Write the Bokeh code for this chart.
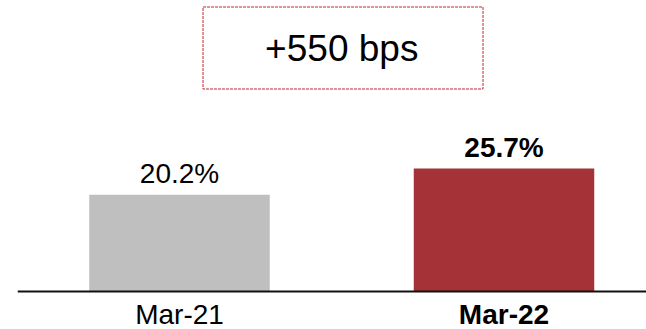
from bokeh.plotting import figure
from bokeh.models import Range1d, Span, BoxAnnotation, Label, ColumnDataSource
from bokeh.embed import file_html
from bokeh.resources import INLINE
from bokeh.core.properties import value

# ---- data ----
categories = ["Mar-21", "Mar-22"]
values = [20.2, 25.7]
bar_colors = ["#BFBFBF", "#A43237"]
label_weights = ["normal", "bold"]
value_labels = [f"{v:.1f}%" for v in values]
change_bps = round((values[1] - values[0]) * 100)
change_label = f"+{change_bps} bps"

# ---- layout (picture pixels -> data units) ----
W, H = 646, 329
FRAME_LEFT = 17          # x where the frame (and baseline) starts
ZERO_Y = 291             # y of the zero line
PX_PER_Y = 4.79          # pixels per percentage point
CENTER0, CENTER1 = 179.0, 503.5
PX_PER_X = CENTER1 - CENTER0


def dx(px):
    return (px - CENTER0) / PX_PER_X


def dy(py):
    return (ZERO_Y - py) / PX_PER_Y


p = figure(width=W, height=H, output_backend="svg", toolbar_location=None,
           x_axis_location=None, y_axis_location=None,
           x_range=Range1d(dx(FRAME_LEFT), dx(W)),
           y_range=Range1d(dy(H), dy(0)),
           min_border_left=FRAME_LEFT, min_border_right=0,
           min_border_top=0, min_border_bottom=0)
p.outline_line_color = None
p.xgrid.visible = False
p.ygrid.visible = False
p.background_fill_color = None
p.border_fill_color = None

xs = list(range(len(categories)))
src = ColumnDataSource(dict(x=xs, top=values, color=bar_colors,
                            cat=categories, lab=value_labels,
                            weight=label_weights))

bar_w = 180.5 / PX_PER_X
p.vbar(x="x", top="top", bottom=0, width=bar_w, fill_color="color",
       line_color=None, source=src)

# value labels above bars
p.text(x="x", y="top", text="lab", source=src,
       text_font=value("Liberation Sans"), text_font_size=value("28px"),
       text_font_style="weight", text_color="#000000",
       text_align="center", text_baseline="middle", y_offset=-21)

# category labels under the baseline
p.text(x="x", y=0, text="cat", source=src,
       text_font=value("Liberation Sans"), text_font_size=value("28px"),
       text_font_style="weight", text_color="#000000",
       text_align="center", text_baseline="middle", y_offset=23)

# baseline
p.add_layout(Span(location=0, dimension="width", line_color="#111111",
                  line_width=2))

# dashed box with the change label
mid = sum(xs) / len(xs)
box = BoxAnnotation(left=dx(202.5), right=dx(482.5),
                    top=dy(6.5), bottom=dy(88.5),
                    fill_alpha=0, fill_color=None,
                    line_color="#C0262D", line_alpha=1.0,
                    line_dash="3 1", line_width=1)
p.add_layout(box)
p.add_layout(Label(x=mid, y=dy(48), text=change_label,
                   text_font="Liberation Sans", text_font_size="37px",
                   text_color="#000000", text_align="center",
                   text_baseline="middle"))

open("out.html", "w").write(file_html(p, INLINE))
